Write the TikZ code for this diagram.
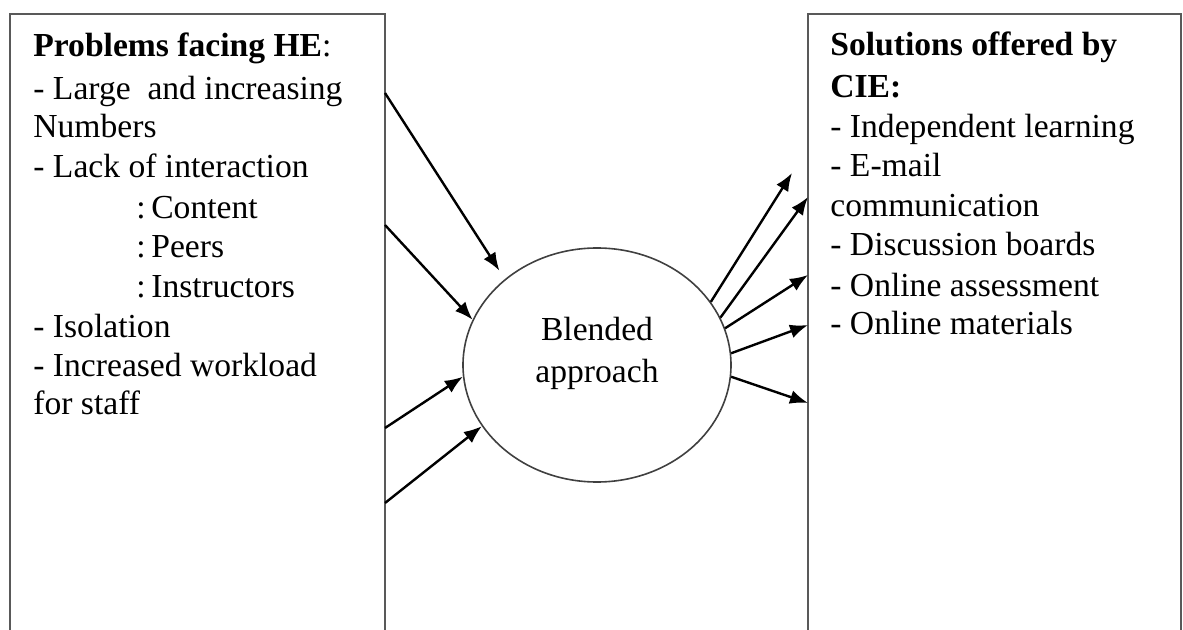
\documentclass[tikz,border=0pt]{standalone}
\usepackage{fontspec}
\setmainfont{Liberation Serif}
\newfontfamily\tnr{Liberation Serif}
\usetikzlibrary{arrows.meta,shapes.geometric,calc}
\begin{document}
\begin{tikzpicture}[x=0.5pt,y=-0.5pt,
  panel/.style={draw=black!65, line width=1.1pt, minimum width=#1, minimum height=343pt,
    anchor=north west, inner sep=0pt, outer sep=0pt},
  ln/.style={anchor=base west, inner sep=0pt, font=\tnr\fontsize{16.8pt}{19.8pt}\selectfont},
  hub/.style={ellipse, draw=black!75, line width=0.8pt, minimum width=134pt,
    minimum height=117pt, align=center, inner sep=0pt,
    font=\tnr\fontsize{16.8pt}{21pt}\selectfont},
  flow/.style={-{Latex[length=9pt,width=7pt]}, line width=1.2pt}]
\clip (0,0) rectangle (1183,630);
\node[panel=187.5pt] (lbox) at (10,14) {};
\node[panel=186.5pt] (rbox) at (808,14) {};
\node[hub] (blend) at (597,365) {Blended\\approach\\[-6pt]\mbox{}\hspace*{16pt}};

% left panel text
\node[ln] (l1) at (33,57) {\textbf{Problems facing HE}:};
\node[ln] (l2) at (33,100) {- Large~ and increasing};
\node[ln] (l3) at (33,138) {Numbers};
\node[ln] (l4) at (33,178) {- Lack of interaction};
\node[ln] (l5) at (136,219) {:\,Content};
\node[ln] (l6) at (136,258) {:\,Peers};
\node[ln] (l7) at (136,298) {:\,Instructors};
\node[ln] (l8) at (33,338) {- Isolation};
\node[ln] (l9) at (33,377) {- Increased workload};
\node[ln] (l10) at (33,415) {for staff};

% right panel text
\node[ln] (r1) at (830,56) {\textbf{Solutions offered by}};
\node[ln] (r2) at (830,98) {\textbf{CIE:}};
\node[ln] (r3) at (830,138) {- Independent learning};
\node[ln] (r4) at (830,177) {- E-mail};
\node[ln] (r5) at (830,217) {communication};
\node[ln] (r6) at (830,256) {- Discussion boards};
\node[ln] (r7) at (830,297) {- Online assessment};
\node[ln] (r8) at (830,335) {- Online materials};

% incoming arrows
\draw[flow, shorten >=5pt] ($(lbox.north east)+(0,79)$) -- (blend.137);
\draw[flow] ($(lbox.north east)+(0,211)$) -- (blend.160);
\draw[flow] ($(lbox.north east)+(0,414)$) -- (blend.185.5);
\draw[flow] ($(lbox.north east)+(0,489)$) -- (blend.208);

% outgoing arrows
\draw[flow] (blend.29) -- ($(rbox.north west)+(-16,159)$);
\draw[flow] (blend.21) -- ($(rbox.north west)+(0,183)$);
\draw[flow] (blend.16) -- ($(rbox.north west)+(0,261)$);
\draw[flow] (blend.5.5) -- ($(rbox.north west)+(0,311)$);
\draw[flow] (blend.-5.5) -- ($(rbox.north west)+(0,389)$);
\end{tikzpicture}
\end{document}
